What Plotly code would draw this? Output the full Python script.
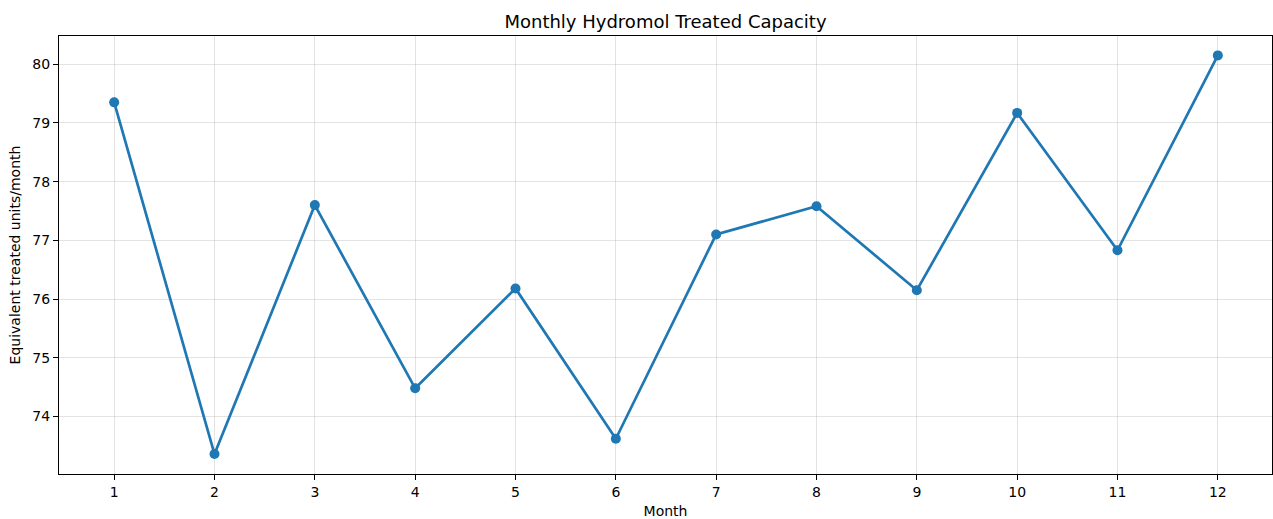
import plotly.graph_objects as go

months = [1, 2, 3, 4, 5, 6, 7, 8, 9, 10, 11, 12]
capacity = [79.35, 73.36, 77.60, 74.48, 76.18, 73.62, 77.10, 77.58, 76.15, 79.17, 76.83, 80.15]
y_ticks = [74, 75, 76, 77, 78, 79, 80]

fig = go.Figure()
fig.add_trace(go.Scatter(
    x=months, y=capacity, mode="lines+markers",
    line=dict(color="#1f77b4", width=2.7),
    marker=dict(color="#1f77b4", size=10),
))

axis_common = dict(
    showline=True, linecolor="black", linewidth=1, mirror=True,
    ticks="outside", ticklen=5, tickcolor="black", tickwidth=1,
    showgrid=True, gridcolor="rgba(176,176,176,0.35)", gridwidth=1,
    zeroline=False,
    tickfont=dict(family="DejaVu Sans", size=14, color="black"),
)

fig.update_layout(
    width=1273, height=519,
    margin=dict(l=59, r=1, t=36, b=45),
    paper_bgcolor="white", plot_bgcolor="white",
    showlegend=False,
    title=dict(text="Monthly Hydromol Treated Capacity", x=0.5, xref="paper", xanchor="center",
               y=1 - 22 / 519, yref="container", yanchor="middle",
               font=dict(family="DejaVu Sans", size=18, color="black")),
    xaxis=dict(axis_common, range=[0.45, 12.54], tickmode="array", tickvals=months,
               title=dict(text="Month", font=dict(family="DejaVu Sans", size=14, color="black"), standoff=9)),
    yaxis=dict(axis_common, range=[73.02, 80.48], tickmode="array", tickvals=y_ticks,
               title=dict(text="Equivalent treated units/month", font=dict(family="DejaVu Sans", size=14, color="black"), standoff=8)),
)

fig.write_html("out.html", config={"displayModeBar": False},
               post_script="document.body.style.margin='0';document.body.style.padding='0';document.body.style.overflow='hidden';")
